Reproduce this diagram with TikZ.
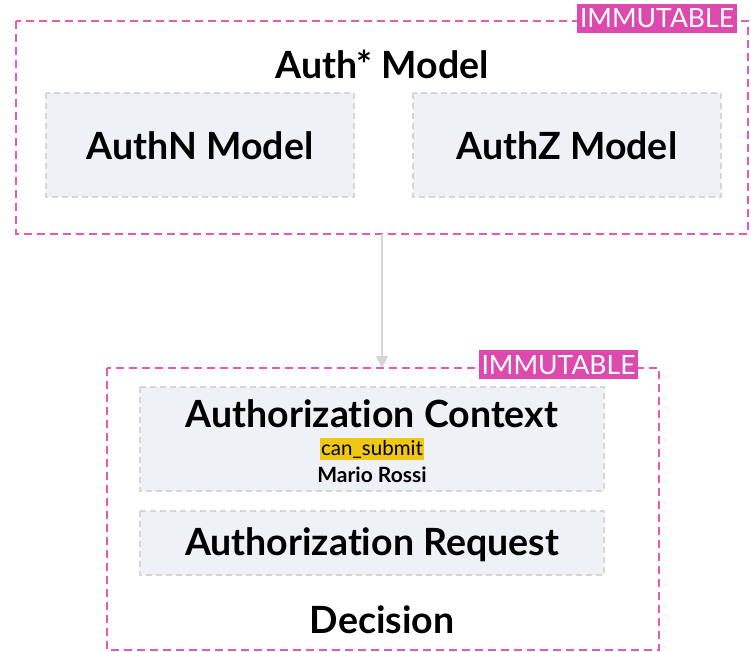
\documentclass[tikz,border=0pt]{standalone}
\usepackage{fontspec}
\setmainfont{Lato}[Ligatures=NoCommon]
\usetikzlibrary{arrows.meta}
\definecolor{frame}{HTML}{E35BB5}
\definecolor{tagbg}{HTML}{DD4AAD}
\definecolor{boxfill}{HTML}{EEF1F6}
\definecolor{boxline}{HTML}{D6D6D6}
\definecolor{hl}{HTML}{F0C814}
\definecolor{arrowgray}{HTML}{D5D5D5}
\tikzset{
  container/.style={draw=frame, line width=1.8pt, dash pattern=on 8pt off 5pt},
  tag/.style={fill=tagbg, text=white, inner xsep=3pt, inner ysep=5pt,
    text height=19pt, text depth=0pt, font=\fontsize{26.5}{28}\selectfont},
  model/.style={draw=boxline, fill=boxfill, line width=1.5pt, dash pattern=on 6pt off 4pt},
  big/.style={font=\bfseries\fontsize{37.5}{40}\selectfont},
  small/.style={font=\fontsize{20.5}{22}\selectfont},
}
\begin{document}
\begin{tikzpicture}[x=1pt,y=-1pt]
\useasboundingbox (0,0) rectangle (751,652);
% upper group
\draw[container] (16,21) rectangle (748,234);
\node[tag] (tagA) at (657,18.5) {IMMUTABLE};
\node[big] (authstar) at (382,64) {Auth* Model};
\draw[model] (46,93) rectangle (354,197);
\node[big] (authn) at (200,146) {AuthN Model};
\draw[model] (413,93) rectangle (721,197);
\node[big] (authz) at (567,146) {AuthZ Model};
% lower group
\coordinate (topbot) at (382,234);
\coordinate (lowtop) at (382,368);
\draw[arrowgray, line width=2pt, -{Triangle[length=12pt,width=12pt]}] (topbot) -- (lowtop);
\draw[container] (107,368) rectangle (659,650);
\node[tag] (tagB) at (558.5,364.5) {IMMUTABLE};
\draw[model] (140,387) rectangle (604,491);
\node[big] (ctx) at (372,414) {Authorization Context};
\node[small, fill=hl, inner xsep=1pt, inner ysep=2pt] (perm) at (372,449) {can\_submit};
\node[font=\bfseries\fontsize{21}{23}\selectfont] (user) at (372,475) {Mario Rossi};
\draw[model] (140,511) rectangle (604,575);
\node[big] (req) at (372,545) {Authorization Request};
\node[big] (dec) at (382,620) {Decision};
\end{tikzpicture}
\end{document}
